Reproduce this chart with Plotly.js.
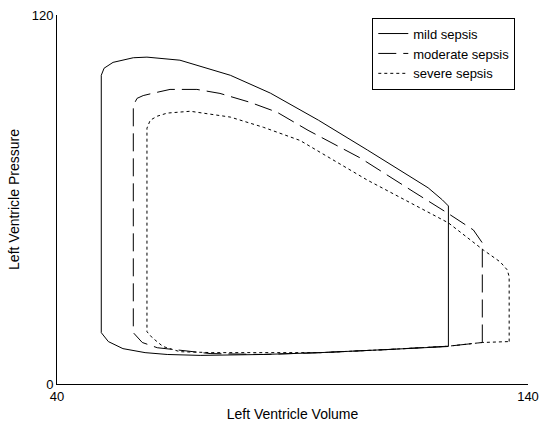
<!DOCTYPE html>
<html>
<head>
<meta charset="utf-8">
<script src="https://cdn.plot.ly/plotly-3.0.1.min.js"></script>
<style>html,body{margin:0;padding:0;background:#fff;}#chart{width:539px;height:430px;}</style>
</head>
<body>
<div id="chart"></div>
<script>
// Pressure–volume loops
var seriesNames = ["mild sepsis", "moderate sepsis", "severe sepsis"];

var mildVolume   = [123.1, 123.1, 121.8, 118.8, 105.9, 95.5, 85.3, 76.8, 66.1, 59.1, 56.2, 51.9, 50.0, 49.4, 49.4, 50.9, 54.0, 58.7, 63.4, 70.4, 83.8, 95.9, 110.1, 123.1];
var mildPressure = [12.2, 57.9, 59.9, 63.8, 76.1, 85.8, 94.6, 100.4, 105.3, 106.3, 106.1, 104.6, 102.7, 100.4, 16.7, 13.8, 11.5, 10.2, 9.6, 9.3, 9.6, 10.2, 11.2, 12.2];

var moderateVolume   = [130.3, 130.3, 128.4, 122.9, 115.6, 104.4, 93.3, 86.7, 81.0, 74.6, 69.7, 64.0, 60.2, 58.3, 57.0, 56.2, 56.2, 58.1, 61.3, 66.1, 72.5, 83.8, 95.9, 110.1, 123.1, 130.3];
var moderatePressure = [13.5, 45.9, 50.1, 55.6, 62.6, 73.5, 82.5, 88.4, 91.6, 94.5, 95.8, 95.8, 94.5, 93.8, 92.9, 90.6, 16.7, 13.5, 11.8, 10.9, 9.9, 9.6, 10.2, 11.2, 12.3, 13.5];

var severeVolume   = [136.0, 136.0, 135.6, 134.1, 130.5, 123.1, 105.9, 91.6, 83.8, 76.8, 68.3, 63.4, 61.3, 59.8, 59.1, 59.1, 60.2, 62.5, 66.1, 73.1, 78.9, 95.9, 110.1, 123.1, 130.3, 136.0];
var severePressure = [13.8, 34.9, 37.1, 39.7, 43.6, 52.4, 66.3, 79.2, 83.5, 86.8, 88.7, 88.1, 87.1, 85.8, 83.2, 17.0, 15.1, 12.2, 10.5, 10.2, 10.2, 10.2, 11.2, 12.3, 13.5, 13.8];

var xTickVals = [40, 140];
var yTickVals = [0, 120];

var FONT = "Arial, 'Liberation Sans', Helvetica, sans-serif";

var traces = [
  {x: mildVolume, y: mildPressure, name: seriesNames[0], mode: "lines",
   line: {color: "#000", width: 1}},
  {x: moderateVolume, y: moderatePressure, name: seriesNames[1], mode: "lines",
   line: {color: "#000", width: 1, dash: "18px,7px"}},
  {x: severeVolume, y: severePressure, name: seriesNames[2], mode: "lines",
   line: {color: "#000", width: 1, dash: "3px,3px"}}
];

var layout = {
  width: 539, height: 430,
  margin: {l: 57, r: 11.3, t: 14.5, b: 45.5, pad: 0},
  paper_bgcolor: "#fff", plot_bgcolor: "#fff",
  font: {family: FONT, size: 13, color: "#000"},
  showlegend: true,
  legend: {
    x: 0.973, y: 0.993, xanchor: "right", yanchor: "top",
    bgcolor: "#fff", bordercolor: "#000", borderwidth: 1,
    font: {family: FONT, size: 13, color: "#000"},
    tracegroupgap: 0, itemwidth: 30
  },
  xaxis: {
    range: [40, 140], tickvals: xTickVals, ticktext: xTickVals.map(String),
    ticks: "inside", ticklen: 5, tickcolor: "#000", tickwidth: 1,
    showline: true, linecolor: "#000", linewidth: 1, mirror: false,
    showgrid: false, zeroline: false, automargin: false,
    tickfont: {family: FONT, size: 13, color: "#000"},
    title: {text: "Left Ventricle Volume", font: {family: FONT, size: 14, color: "#000"}, standoff: 6}
  },
  yaxis: {
    range: [0, 120], tickvals: yTickVals, ticktext: yTickVals.map(String),
    ticks: "inside", ticklen: 5, tickcolor: "#000", tickwidth: 1,
    showline: true, linecolor: "#000", linewidth: 1, mirror: false,
    showgrid: false, zeroline: false, automargin: false,
    tickfont: {family: FONT, size: 13, color: "#000"},
    title: {text: "Left Ventricle Pressure", font: {family: FONT, size: 14, color: "#000"}, standoff: 8}
  }
};

Plotly.newPlot("chart", traces, layout, {displayModeBar: false, staticPlot: true});
</script>
</body>
</html>
